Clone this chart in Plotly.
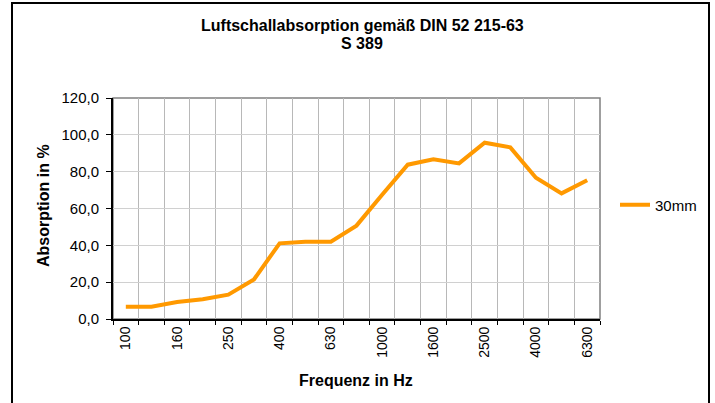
import plotly.graph_objects as go

# Data
freqs = ["100", "125", "160", "200", "250", "315", "400", "500", "630", "800",
         "1000", "1250", "1600", "2000", "2500", "3150", "4000", "5000", "6300"]
absorption_30mm = [6.7, 6.7, 9.2, 10.7, 13.2, 21.5, 41.1, 42.0, 42.0, 50.7,
                   67.5, 83.8, 86.7, 84.5, 95.7, 93.2, 76.7, 68.2, 75.3]
y_ticks = [0, 20, 40, 60, 80, 100, 120]
y_ticklabels = ["0,0", "20,0", "40,0", "60,0", "80,0", "100,0", "120,0"]
x_ticklabels = [f if i % 2 == 0 else "" for i, f in enumerate(freqs)]

title_line1 = "Luftschallabsorption gemäß DIN 52 215-63"
title_line2 = "S 389"
x_title = "Frequenz in Hz"
y_title = "Absorption in %"
series_name = "30mm"

FONT = "Liberation Sans, Arial, sans-serif"
W, H = 715, 403
L, R, T, B = 113, 600, 98, 319
pw, ph = R - L, B - T

def px(x):
    return (x - L) / pw

def py(y):
    return (B - y) / ph

fig = go.Figure()
fig.add_trace(go.Scatter(
    x=freqs, y=absorption_30mm, mode="lines", name=series_name,
    line=dict(color="#FF9900", width=4),
))

fig.update_layout(
    width=W, height=H,
    margin=dict(l=L, r=W - R, t=T, b=H - B, pad=0),
    paper_bgcolor="white", plot_bgcolor="white",
    font=dict(family=FONT, color="black", size=13),
    showlegend=True,
    legend=dict(x=px(615), y=py(205), xanchor="left", yanchor="middle",
                font=dict(size=15, family=FONT), bgcolor="rgba(0,0,0,0)",
                borderwidth=0),
    xaxis=dict(
        type="category", range=[-0.5, len(freqs) - 0.5],
        tickmode="array", tickvals=freqs, ticktext=x_ticklabels,
        tickson="boundaries", ticks="outside", ticklen=4, tickcolor="black",
        tickangle=-90, tickfont=dict(size=14),
        showgrid=True, gridcolor="#b8b8b8", gridwidth=1,
        showline=True, linecolor="black", linewidth=2,
        zeroline=False,
    ),
    yaxis=dict(
        range=[0, 120], tickmode="array", tickvals=y_ticks, ticktext=y_ticklabels,
        ticks="outside", ticklen=5, tickcolor="black", tickfont=dict(size=15),
        ticklabelstandoff=4,
        showgrid=True, gridcolor="#d0d0d0", gridwidth=1,
        showline=True, linecolor="black", linewidth=2,
        zeroline=False,
    ),
    annotations=[
        dict(text=f"<b>{title_line1}</b>", x=px(362), y=py(25), xref="paper", yref="paper",
             xanchor="center", yanchor="middle", showarrow=False, font=dict(size=16)),
        dict(text=f"<b>{title_line2}</b>", x=px(362), y=py(43), xref="paper", yref="paper",
             xanchor="center", yanchor="middle", showarrow=False, font=dict(size=16)),
        dict(text=f"<b>{x_title}</b>", x=px(356), y=py(380), xref="paper", yref="paper",
             xanchor="center", yanchor="middle", showarrow=False, font=dict(size=16)),
        dict(text=f"<b>{y_title}</b>", x=px(43), y=py(206), xref="paper", yref="paper",
             xanchor="center", yanchor="middle", showarrow=False, textangle=-90,
             font=dict(size=16)),
    ],
    shapes=[
        # plot-area frame (gray)
        dict(type="rect", xref="paper", yref="paper", x0=0, x1=1, y0=0, y1=1,
             line=dict(color="#808080", width=1.5), layer="between"),
        # outer chart border
        dict(type="rect", xref="paper", yref="paper", x0=px(12), x1=px(709),
             y0=py(415), y1=py(3), line=dict(color="black", width=2), layer="above"),
    ],
)

fig.write_html("out.html", config={"displayModeBar": False},
               post_script="document.body.style.margin='0';document.body.style.overflow='hidden';")
